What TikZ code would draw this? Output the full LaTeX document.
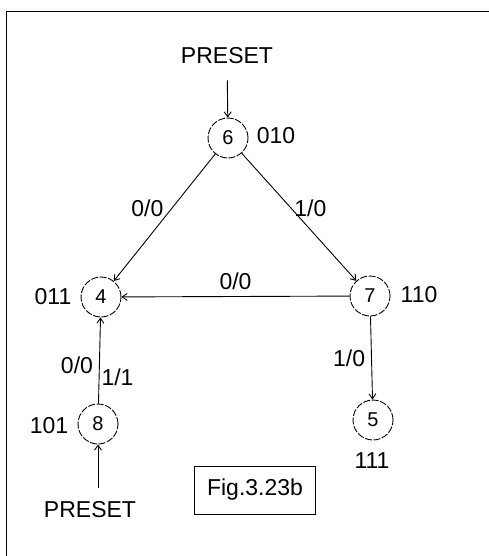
\documentclass[tikz,border=0pt]{standalone}
\usepackage{fontspec}
\setmainfont{Liberation Sans}
\usetikzlibrary{arrows.meta,positioning}

\begin{document}
\begin{tikzpicture}[x=1pt,y=-1pt,
  state/.style={circle,draw,line width=0.9pt,dash pattern=on 7pt off 1.6pt,minimum size=40pt,inner sep=0pt,font=\fontsize{20}{24}\selectfont},
  code/.style={font=\fontsize{23}{26}\selectfont,inner sep=0pt},
  arr/.style={line width=0.9pt,-{Straight Barb[length=5pt,width=7pt]}}]
% Frame
\useasboundingbox (0,0) rectangle (489,556);
\draw[line width=1.6pt] (6.5,556) -- (6.5,11.5) -- (489,11.5);
% States
\node[state] (s6) at (228,138) {6};
\node[state] (s4) at (101,297) {4};
\node[state] (s7) at (370,296) {7};
\node[state] (s5) at (373,420) {5};
\node[state] (s8) at (98,424) {8};
% State codes
\node[code] (c6) at (276,136) {010};
\node[code] (c4) at (53,297) {011};
\node[code] (c7) at (419,295) {110};
\node[code] (c5) at (372,461) {111};
\node[code] (c8) at (49,426) {101};
% Preset inputs
\node[code] (p6) at (227,56) {PRESET};
\node[code] (p8) at (90,510) {PRESET};
\draw[arr, shorten <=16pt] (p6) -- (s6);
\draw[arr, shorten <=14pt] (s8 |- p8.north) -- (s8);
% Transitions
\draw[arr] (s6) -- node[code, above left=1pt] {0/0} (s4);
\draw[arr] (s6) -- node[code, above right=0pt, xshift=-5pt] {1/0} (s7);
\draw[arr] (s7) -- node[code, above=6pt] {0/0} (s4);
\draw[arr] (s8) -- node[code, pos=0.45, left=6pt] {0/0} node[code, pos=0.3, right=2pt] {1/1} (s4);
\draw[arr] (s7) -- node[code, left=6pt] {1/0} (s5);
% Caption
\node[draw, line width=0.9pt, code, minimum width=121pt, minimum height=48pt] (fig) at (255,490) {Fig.3.23b};
\end{tikzpicture}
\end{document}
